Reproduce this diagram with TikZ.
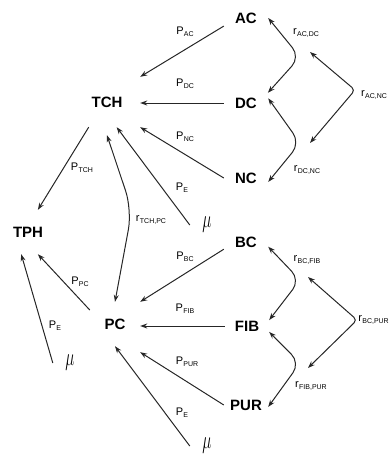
\documentclass[tikz,border=0pt]{standalone}
\usepackage{fontspec}
\setmainfont{Liberation Sans}
\usetikzlibrary{arrows.meta}
% parameter symbol with a small lowered subscript
\newcommand{\sublab}[2]{{\fontsize{11}{11}\selectfont #1}\kern0.3pt\raisebox{-2.2pt}{\fontsize{7}{7}\selectfont #2}}
\newcommand{\mulab}{\fontsize{40}{40}\selectfont\scalebox{0.62}[1.0]{$\mu$}}

\begin{document}
\begin{tikzpicture}[x=1pt,y=-1pt,
  stage/.style={font=\fontsize{15}{15}\selectfont\bfseries, inner sep=0pt,
                minimum width=44pt, minimum height=20pt},
  munode/.style={inner sep=0pt, minimum width=34pt, minimum height=26pt},
  lab/.style={inner sep=0pt},
  tip/.tip={Stealth[length=7pt,width=5pt]},
  flow/.style={draw=black!85, line width=1pt, -tip},
  link/.style={draw=black!85, line width=1pt, tip-tip, rounded corners=12pt},
]
\useasboundingbox (0,0) rectangle (390,459);

% compartments
\node[stage] (AC)  at (246,18)  {AC};
\node[stage] (DC)  at (246,103) {DC};
\node[stage] (NC)  at (246,178) {NC};
\node[stage] (BC)  at (246,242) {BC};
\node[stage] (FIB) at (247,326) {FIB};
\node[stage] (PUR) at (246,405) {PUR};
\node[stage, minimum width=66pt, minimum height=50pt] (TCH) at (107,102) {TCH};
\node[stage, minimum width=50pt, minimum height=44pt] (PC)  at (115,324) {PC};
\node[stage, minimum width=40pt, minimum height=44pt] (TPH) at (28,232)  {TPH};

% error terms
\node[munode] (mu1) at (207,225) {\mulab};
\node[munode] (mu2) at (70,363)  {\mulab};
\node[munode] (mu3) at (207,446) {\mulab};

% bends of the correlation curves
\coordinate (kAD) at (300,57);
\coordinate (kDN) at (300,143);
\coordinate (oA1) at (310,52);
\coordinate (kAN) at (355,90);
\coordinate (oA2) at (310,143);
\coordinate (kBF) at (300,280);
\coordinate (kFP) at (300,363);
\coordinate (oB1) at (308,277);
\coordinate (kBP) at (357,320);
\coordinate (oB2) at (308,368);
\coordinate (kTP) at (132,210);

% paths into TCH
\draw[flow] (AC.200) -- (TCH.north east);
\draw[flow] (DC.west) -- (DC.west -| TCH.east);
\draw[flow] (NC.west) -- (TCH.south east);
\draw[flow] (mu1.west) -- (TCH.-69);

% paths into PC
\draw[flow] (BC.198) -- (PC.north east);
\draw[flow] (FIB.west) -- (FIB.west -| PC.east);
\draw[flow] (PUR.west) -- ([yshift=-6pt]PC.south east);
\draw[flow] (mu3.west) -- (PC.south);

% paths into TPH
\draw[flow] (TCH.-126) -- (TPH.66);
\draw[flow] (PC.151) -- (TPH.-66);
\draw[flow] (mu2.west) -- (TPH.-107);

% correlations
\draw[link, rounded corners=20pt] (PC.north) -- (kTP) -- ([yshift=-8pt]TCH.south);
\draw[link] (AC.east) -- (kAD) -- (DC.25);
\draw[link] (DC.12) -- (kDN) -- (NC.-10);
\draw[link, rounded corners=4pt] (oA1) -- (kAN) -- (oA2);
\draw[link] (BC.-12) -- (kBF) -- (FIB.15);
\draw[link] (FIB.-15) -- (kFP) -- (PUR.-5);
\draw[link, rounded corners=4pt] (oB1) -- (kBP) -- (oB2);

% path labels
\node[lab] (lAC)  at (185,32)  {\sublab{P}{AC}};
\node[lab] (lDC)  at (185,84)  {\sublab{P}{DC}};
\node[lab] (lNC)  at (185,137) {\sublab{P}{NC}};
\node[lab] (lE1)  at (182,188) {\sublab{P}{E}};
\node[lab] (lTCH) at (82,168)  {\sublab{P}{TCH}};
\node[lab] (lTP)  at (151,220) {\sublab{r}{TCH,PC}};
\node[lab] (lBC)  at (185,257) {\sublab{P}{BC}};
\node[lab] (lFIB) at (185,309) {\sublab{P}{FIB}};
\node[lab] (lPUR) at (187,362) {\sublab{P}{PUR}};
\node[lab] (lE3)  at (182,413) {\sublab{P}{E}};
\node[lab] (lPC)  at (80,282)  {\sublab{P}{PC}};
\node[lab] (lE2)  at (55,326)  {\sublab{P}{E}};

% correlation labels
\node[lab] (rAD) at (306,33)  {\sublab{r}{AC,DC}};
\node[lab] (rDN) at (307,170) {\sublab{r}{DC,NC}};
\node[lab, anchor=west] (rAN) at (361,95) {\sublab{r}{AC,NC}};
\node[lab] (rBF) at (307,260) {\sublab{r}{BC,FIB}};
\node[lab] (rFP) at (311,386) {\sublab{r}{FIB,PUR}};
\node[lab, anchor=east] (rBP) at (389,320) {\sublab{r}{BC,PUR}};
\end{tikzpicture}
\end{document}
